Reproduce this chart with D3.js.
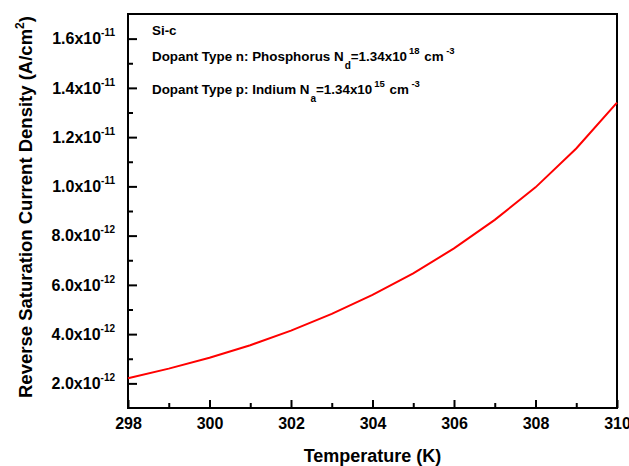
<!DOCTYPE html>
<html>
<head>
<meta charset="utf-8">
<script src="https://cdn.jsdelivr.net/npm/d3@7"></script>
<style>
  html, body { margin: 0; padding: 0; background: #fff; }
  svg { display: block; font-family: "Liberation Sans", Arial, sans-serif; font-weight: bold; }
</style>
</head>
<body>
<svg width="629" height="466"></svg>
<script>
// temperature (K) and reverse saturation current density (A/cm^2)
const temps = [298, 299, 300, 301, 302, 303, 304, 305, 306, 307, 308, 309, 310];
const currents = [2.21e-12, 2.60e-12, 3.04e-12, 3.55e-12, 4.14e-12, 4.82e-12, 5.59e-12,
                  6.47e-12, 7.48e-12, 8.64e-12, 9.96e-12, 1.154e-11, 1.34e-11];

const xTicks = [298, 300, 302, 304, 306, 308, 310];
const xMinor = [299, 301, 303, 305, 307, 309];
const yTicks = [2e-12, 4e-12, 6e-12, 8e-12, 1e-11, 1.2e-11, 1.4e-11, 1.6e-11];
const yMinor = [3e-12, 5e-12, 7e-12, 9e-12, 1.1e-11, 1.3e-11, 1.5e-11];

const plotL = 128, plotR = 617, plotT = 14, plotB = 408;

const svg = d3.select("svg");

const x = d3.scaleLinear().domain([298, 310]).range([plotL, plotR]);
const y = d3.scaleLinear().domain([1e-12, 1.7e-11]).range([plotB, plotT]);

// split a value into mantissa and power of ten
function sci(v) {
	var e = Math.floor(Math.log10(v) + 1e-9);
	var m = v / Math.pow(10, e);
	return [m.toFixed(1), e];
}

// minor ticks first
svg.append("g")
	.attr("transform", `translate(0,${plotB})`)
	.call(d3.axisBottom(x).tickValues(xMinor).tickSize(-5).tickSizeOuter(0).tickFormat(() => ""))
	.call(g => g.select(".domain").remove())
	.selectAll("line").attr("stroke-width", 2);

svg.append("g")
	.attr("transform", `translate(${plotL},0)`)
	.call(d3.axisLeft(y).tickValues(yMinor).tickSize(-5).tickSizeOuter(0).tickFormat(() => ""))
	.call(g => g.select(".domain").remove())
	.selectAll("line").attr("stroke-width", 2);

// major x axis
const gx = svg.append("g")
	.attr("transform", `translate(0,${plotB})`)
	.call(d3.axisBottom(x).tickValues(xTicks).tickSize(-8).tickSizeOuter(0).tickPadding(10))
	.call(g => g.select(".domain").remove());
gx.selectAll("line").attr("stroke-width", 2);
gx.selectAll("text")
	.attr("font-size", 16)
	.attr("font-family", "'Liberation Sans', Arial, sans-serif")
	.attr("font-weight", "bold")
	.attr("fill", "#000");

// major y axis with x10^n labels
const gy = svg.append("g")
	.attr("transform", `translate(${plotL},0)`)
	.call(d3.axisLeft(y).tickValues(yTicks).tickSize(-9).tickSizeOuter(0).tickPadding(13).tickFormat(() => ""))
	.call(g => g.select(".domain").remove());
gy.selectAll("line").attr("stroke-width", 2);
gy.selectAll("text")
	.attr("font-size", 16)
	.attr("font-family", "'Liberation Sans', Arial, sans-serif")
	.attr("font-weight", "bold")
	.attr("fill", "#000")
	.each(function (d) {
		var s = sci(d);
		var t = d3.select(this);
		t.append("tspan").text(s[0] + "x10");
		t.append("tspan").attr("font-size", 10).attr("dy", -8).text(String(s[1]));
	});

// frame
svg.append("rect")
	.attr("x", plotL).attr("y", plotT)
	.attr("width", plotR - plotL).attr("height", plotB - plotT)
	.attr("fill", "none").attr("stroke", "#000").attr("stroke-width", 2);

// curve
const line = d3.line().x((d, i) => x(temps[i])).y(d => y(d));
svg.append("path")
	.attr("d", line(currents))
	.attr("fill", "none")
	.attr("stroke", "#f00")
	.attr("stroke-width", 2);

// annotations
const ann = svg.append("g").attr("font-size", 13.4).attr("fill", "#000");
ann.append("text").attr("x", 152).attr("y", 35).text("Si-c");

function dopant(yPos, label, sub, exp) {
	var t = ann.append("text").attr("x", 152).attr("y", yPos);
	t.append("tspan").text(label + "N");
	t.append("tspan").attr("font-size", 10).attr("dy", 8).attr("dx", 1).text(sub);
	t.append("tspan").attr("dy", -8).text("=1.34x10");
	t.append("tspan").attr("font-size", 9.5).attr("dy", -7).attr("dx", 2).text(exp);
	t.append("tspan").attr("dy", 7).attr("dx", 1).text("\u00a0cm");
	t.append("tspan").attr("font-size", 9.5).attr("dy", -7).attr("dx", 2.5).text("-3");
}
dopant(61, "Dopant Type n: Phosphorus ", "d", "18");
dopant(94, "Dopant Type p: Indium ", "a", "15");

// axis titles
svg.append("text")
	.attr("x", (plotL + plotR) / 2).attr("y", 462)
	.attr("text-anchor", "middle")
	.attr("font-size", 18)
	.text("Temperature (K)");

const yt = svg.append("text")
	.attr("transform", "translate(32,398) rotate(-90)")
	.attr("font-size", 18.5);
yt.append("tspan").text("Reverse Saturation Current Density (A/cm");
yt.append("tspan").attr("font-size", 12).attr("dy", -8).text("2");
yt.append("tspan").attr("dy", 8).text(")");
</script>
</body>
</html>
